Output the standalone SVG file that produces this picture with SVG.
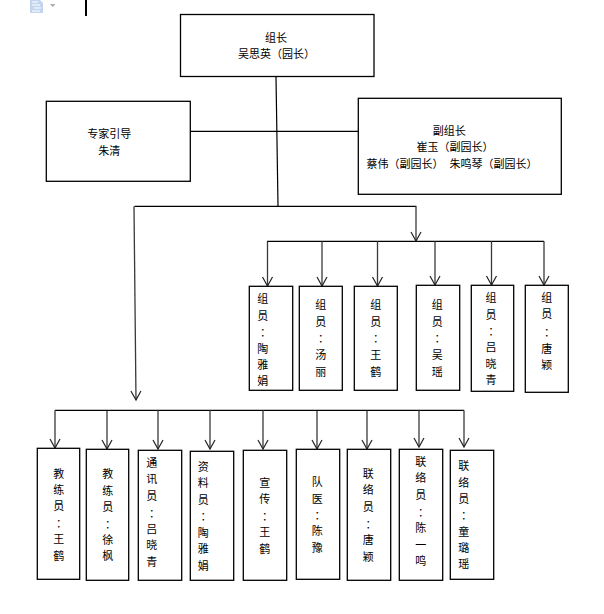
<svg xmlns="http://www.w3.org/2000/svg" width="604" height="614" viewBox="0 0 604 614">
<style>
text{font-family:"Noto Sans CJK SC","Noto Sans",sans-serif;font-size:11px;fill:#000;text-anchor:middle;dominant-baseline:central}
.s{text-anchor:start}
.c{font-family:"Noto Sans CJK TC","Noto Sans",sans-serif}
rect.b{fill:#fff;stroke:#000;stroke-width:1.3}
.l{fill:none;stroke:#000;stroke-width:1.2}
.a{fill:none;stroke:#3a3a3a;stroke-width:1.3;marker-end:url(#arrow)}
</style>
<defs>
<marker id="arrow" markerUnits="userSpaceOnUse" markerWidth="14" markerHeight="14" refX="9" refY="6" orient="auto" overflow="visible">
<path d="M0 1 L9 6 L0 11" fill="none" stroke="#222" stroke-width="1.2"/>
</marker>
</defs>
<rect width="604" height="614" fill="#fff"/>
<g id="toolbar">
<path d="M30 0H40L43 3V13H30Z" fill="#c3d5ee"/>
<path d="M32 2H38M32 5H40M34 8H41M32 11H40" stroke="#fff" stroke-width="1" fill="none"/>
<path d="M50 4H55.500L52.700 7Z" fill="#aaa"/>
<rect x="85" y="0" width="2" height="16" fill="#000"/>
</g>
<g id="connectors">
<path class="l" d="M190.300 131.300H358.300"/>
<path class="l" d="M276 76.500L278 206.300" stroke="#333"/>
<path class="l" d="M134.500 206.300H416.300"/>
<path class="l" d="M267 241.300H544"/>
<path class="l" d="M55 410.300H464"/>
<path class="a" d="M134 206.300L136 400"/>
<path class="a" d="M416 206.300V241"/>
<path class="a" d="M267.500 241.300V286"/>
<path class="a" d="M322 241.300V286"/>
<path class="a" d="M377.500 241.300V286"/>
<path class="a" d="M435 241.300V285"/>
<path class="a" d="M491.500 241.300V285"/>
<path class="a" d="M544 241.300V285"/>
<path class="a" d="M55 410.300V448"/>
<path class="a" d="M107 411V449"/>
<path class="a" d="M158 410.300V449"/>
<path class="a" d="M210 410.300V449"/>
<path class="a" d="M263 410.300V449"/>
<path class="a" d="M317 411V449"/>
<path class="a" d="M367 411V449"/>
<path class="a" d="M419 410.300V447"/>
<path class="a" d="M464 410.300V447"/>
</g>
<g id="leader"><rect class="b" x="180.500" y="14.500" width="193.500" height="62"/><text x="276" y="36.700">组长</text><text x="276.500" y="52.700">吴思英（园长）</text></g>
<g id="advisor"><rect class="b" x="46.300" y="101.300" width="144" height="80"/><text x="109.300" y="132.700">专家引导</text><text x="109.300" y="149.700">朱清</text></g>
<g id="deputy"><rect class="b" x="358.300" y="98.300" width="203" height="96"/><text x="449.300" y="130">副组长</text><text class="s" x="416.500" y="146">崔玉（副园长）</text><text class="s" x="366.500" y="163.300">蔡伟（副园长）</text><text class="s" x="449.500" y="163.300">朱鸣琴（副园长）</text></g>
<g id="m1"><rect class="b" x="249.300" y="286.300" width="43.400" height="104"/><text x="262.700" y="298.300">组</text><text x="262.700" y="315">员</text><text class="c" x="262.700" y="331.700">：</text><text x="262.700" y="347.700">陶</text><text x="262.700" y="364">雅</text><text x="262.700" y="380">娟</text></g>
<g id="m2"><rect class="b" x="299.300" y="286.300" width="43" height="104"/><text x="320.700" y="304">组</text><text x="320.700" y="320.700">员</text><text class="c" x="320.700" y="338">：</text><text x="320.700" y="354">汤</text><text x="320.700" y="371">丽</text></g>
<g id="m3"><rect class="b" x="354.300" y="286.300" width="43" height="104"/><text x="375.700" y="304">组</text><text x="375.700" y="320.700">员</text><text class="c" x="375.700" y="338">：</text><text x="375.700" y="354">王</text><text x="375.700" y="371">鹤</text></g>
<g id="m4"><rect class="b" x="416.300" y="285.300" width="43.400" height="105"/><text x="437.300" y="304">组</text><text x="437.300" y="320.700">员</text><text class="c" x="437.300" y="338">：</text><text x="437.300" y="354">吴</text><text x="437.300" y="371">瑶</text></g>
<g id="m5"><rect class="b" x="471.300" y="285.300" width="42.400" height="106"/><text x="491" y="297.300">组</text><text x="491" y="313.500">员</text><text class="c" x="491" y="331">：</text><text x="491" y="346">吕</text><text x="491" y="363">晓</text><text x="491" y="379">青</text></g>
<g id="m6"><rect class="b" x="525.300" y="285.300" width="43" height="107"/><text x="546.700" y="297.300">组</text><text x="546.700" y="313.300">员</text><text class="c" x="546.700" y="332">：</text><text x="546.700" y="348">唐</text><text x="546.700" y="364">颖</text></g>
<g id="s1"><rect class="b" x="37.300" y="448.300" width="42.400" height="131"/><text x="58.700" y="473.300">教</text><text x="58.700" y="489.300">练</text><text x="58.700" y="505.300">员</text><text class="c" x="58.700" y="523">：</text><text x="58.700" y="538.300">王</text><text x="58.700" y="554.700">鹤</text></g>
<g id="s2"><rect class="b" x="86.300" y="449.300" width="42.400" height="131"/><text x="107.700" y="473.300">教</text><text x="107.700" y="490">练</text><text x="107.700" y="506">员</text><text class="c" x="107.700" y="524">：</text><text x="107.700" y="539">徐</text><text x="107.700" y="555">枫</text></g>
<g id="s3"><rect class="b" x="138.300" y="450.300" width="43.400" height="130"/><text x="151.700" y="462">通</text><text x="151.700" y="478.300">讯</text><text x="151.700" y="495">员</text><text class="c" x="151.700" y="513">：</text><text x="151.700" y="528.300">吕</text><text x="151.700" y="544">晓</text><text x="151.700" y="561.300">青</text></g>
<g id="s4"><rect class="b" x="190.300" y="451.300" width="43.400" height="129"/><text x="203.300" y="466">资</text><text x="203.300" y="482.300">料</text><text x="203.300" y="498.700">员</text><text class="c" x="203.300" y="516">：</text><text x="203.300" y="532">陶</text><text x="203.300" y="548.300">雅</text><text x="203.300" y="564.700">娟</text></g>
<g id="s5"><rect class="b" x="243.300" y="450.300" width="43.400" height="130"/><text x="264.700" y="481.700">宣</text><text x="264.700" y="497.700">传</text><text class="c" x="264.700" y="516">：</text><text x="264.700" y="531.300">王</text><text x="264.700" y="548">鹤</text></g>
<g id="s6"><rect class="b" x="296.300" y="449.300" width="43.400" height="130"/><text x="317.300" y="481">队</text><text x="317.300" y="498">医</text><text class="c" x="317.300" y="515.300">：</text><text x="317.300" y="530">陈</text><text x="317.300" y="546.700">豫</text></g>
<g id="s7"><rect class="b" x="347.300" y="449.300" width="43.400" height="131"/><text x="368.300" y="472.700">联</text><text x="368.300" y="489.300">络</text><text x="368.300" y="506">员</text><text class="c" x="368.300" y="524">：</text><text x="368.300" y="539">唐</text><text x="368.300" y="555.700">颖</text></g>
<g id="s8"><rect class="b" x="399.300" y="449.300" width="43.400" height="131"/><text x="420.700" y="460.700">联</text><text x="420.700" y="477.300">络</text><text x="420.700" y="494">员</text><text class="c" x="420.700" y="511.700">：</text><text x="420.700" y="527.300">陈</text><text x="420.700" y="544">一</text><text x="420.700" y="560">鸣</text></g>
<g id="s9"><rect class="b" x="450.300" y="450.300" width="43.400" height="129"/><text x="463.700" y="465">联</text><text x="463.700" y="481.700">络</text><text x="463.700" y="497.700">员</text><text class="c" x="463.700" y="515">：</text><text x="463.700" y="531">童</text><text x="463.700" y="547.300">璐</text><text x="463.700" y="563.300">瑶</text></g>
</svg>
